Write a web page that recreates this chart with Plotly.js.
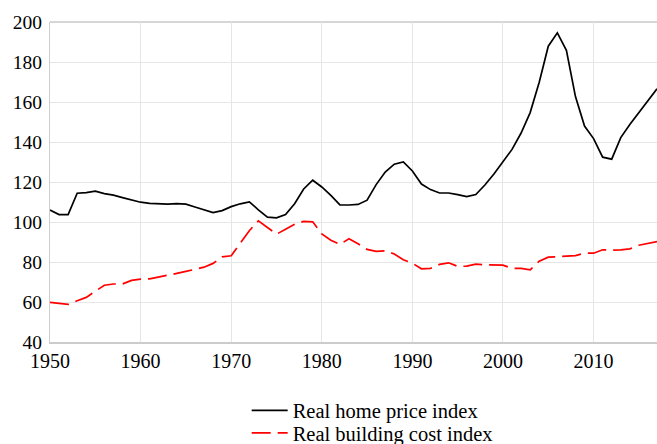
<!DOCTYPE html>
<html>
<head>
<meta charset="utf-8">
<script src="https://cdn.plot.ly/plotly-3.0.1.min.js"></script>
<style>html,body{margin:0;padding:0;background:#fff;}#chart{width:657px;height:444px;}</style>
</head>
<body>
<div id="chart"></div>
<script>
const years = [];
for (let y = 1950; y <= 2017; y++) years.push(y);

const homePrice = [
  106, 103.7, 103.7, 114.4, 114.7, 115.4, 114.2, 113.4, 112.2, 110.9,
  109.9, 109.3, 109.1, 108.9, 109.2, 108.9, 107.5, 106.2, 104.7, 105.7,
  107.7, 109.1, 110.1, 106.1, 102.4, 102.1, 103.7, 109.1, 116.5, 120.9,
  117.5, 113.3, 108.6, 108.5, 108.8, 110.9, 118.7, 125.0, 128.9, 130.0,
  125.5, 119.0, 116.2, 114.5, 114.5, 113.7, 112.7, 113.7, 118.5, 124.0,
  130.2, 136.3, 144.5, 154.7, 169.9, 187.9, 194.6, 185.8, 162.7, 148.0,
  141.7, 132.4, 131.4, 142.2, 148.8, 154.7, 160.3, 166.6
];

const buildingCost = [
  59.8, 59.4, 58.8, 60.6, 62.3, 65.4, 68.4, 69.0, 69.0, 70.8,
  71.4, 71.6, 72.4, 73.3, 74.3, 75.3, 76.4, 77.4, 79.3, 82.6,
  83.1, 89.3, 95.6, 100.6, 97.4, 93.9, 96.4, 98.9, 100.3, 100.1,
  94.0, 90.9, 88.8, 91.6, 89.1, 86.3, 85.3, 85.6, 84.0, 81.1,
  79.4, 76.6, 76.8, 78.8, 79.6, 77.8, 77.9, 78.9, 78.6, 78.6,
  78.4, 76.8, 76.8, 76.1, 80.4, 82.4, 82.6, 82.9, 83.2, 84.4,
  84.4, 86.1, 85.9, 86.1, 86.6, 88.4, 89.4, 90.2
];

const seriesNames = ["Real home price index", "Real building cost index"];
const xTicks = [1950, 1960, 1970, 1980, 1990, 2000, 2010];
const yTicks = [40, 60, 80, 100, 120, 140, 160, 180, 200];

const fontFamily = 'Liberation Serif';
const legendFont = {family: fontFamily, size: 20.5, color: '#000'};

const traces = [
  {
    x: years, y: homePrice, name: seriesNames[0], type: 'scatter', mode: 'lines',
    line: {color: '#000000', width: 1.7}, legend: 'legend'
  },
  {
    x: years, y: buildingCost, name: seriesNames[1], type: 'scatter', mode: 'lines',
    line: {color: '#ff0000', width: 1.7, dash: '19px,7px'}, legend: 'legend2'
  }
];

const layout = {
  width: 657, height: 444,
  margin: {l: 50, r: 0, t: 22, b: 102, autoexpand: false},
  paper_bgcolor: '#ffffff', plot_bgcolor: '#ffffff',
  font: {family: fontFamily, size: 20, color: '#000000'},
  showlegend: true,
  legend: {
    orientation: 'v', x: 0.324, xanchor: 'left', y: -0.152, yanchor: 'top',
    font: legendFont, itemwidth: 36, bgcolor: 'rgba(0,0,0,0)'
  },
  legend2: {
    orientation: 'v', x: 0.324, xanchor: 'left', y: -0.222, yanchor: 'top',
    font: legendFont, itemwidth: 36, bgcolor: 'rgba(0,0,0,0)'
  },
  xaxis: {
    range: [1950, 2017], tickvals: xTicks, ticktext: xTicks.map(String),
    showgrid: true, gridcolor: '#e6e6e6', gridwidth: 1,
    showline: true, linecolor: '#cccccc', linewidth: 2, mirror: false,
    ticks: '', zeroline: false,
    tickfont: {family: fontFamily, size: 20, color: '#000'}
  },
  yaxis: {
    range: [40, 200], tickvals: yTicks,
    showgrid: true, gridcolor: '#e6e6e6', gridwidth: 1,
    showline: true, linecolor: '#cccccc', linewidth: 1, mirror: true,
    ticks: '', zeroline: false, ticklabelstandoff: 3,
    tickfont: {family: fontFamily, size: 19.5, color: '#000'}
  },
  shapes: [
    {type: 'line', xref: 'paper', yref: 'paper', x0: 0, x1: 1, y0: 1, y1: 1,
     line: {color: '#c8c8c8', width: 1.5}, layer: 'below'}
  ]
};

Plotly.newPlot('chart', traces, layout, {displayModeBar: false, staticPlot: true});
</script>
</body>
</html>
